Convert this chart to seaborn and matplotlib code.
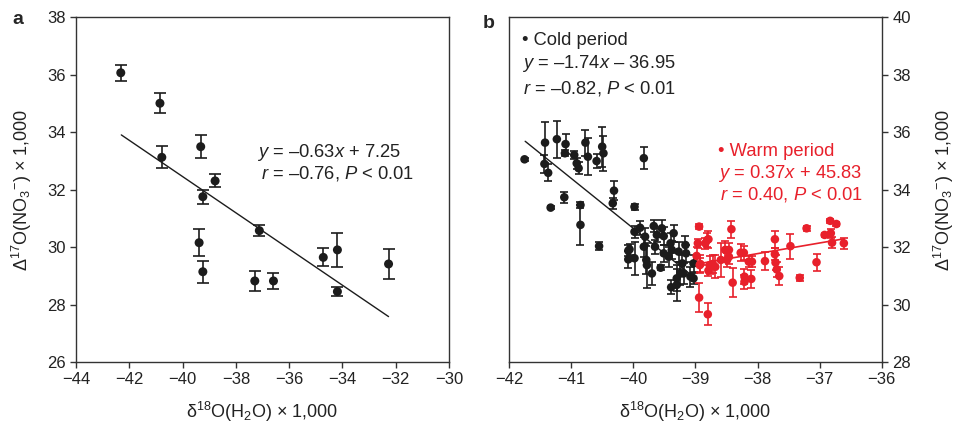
import numpy as np
import pandas as pd
import matplotlib
matplotlib.use("Agg")
import matplotlib.pyplot as plt
import seaborn as sns

sns.set_style("ticks")
plt.rcParams["font.family"] = ["Liberation Sans", "DejaVu Sans"]
plt.rcParams["mathtext.fontset"] = "custom"
plt.rcParams["mathtext.rm"] = "Liberation Sans"
plt.rcParams["mathtext.it"] = "Liberation Sans:italic"
plt.rcParams["mathtext.sf"] = "Liberation Sans"
plt.rcParams["mathtext.default"] = "regular"

# ---------------- Panel a data ----------------
a_x = [-42.32, -40.85, -40.78, -39.32, -38.78, -39.24, -39.38, -39.24,
       -37.12, -37.29, -36.59, -34.72, -34.19, -34.19, -32.27]
a_y = [36.06, 35.00, 33.12, 33.49, 32.30, 31.75, 30.15, 29.14,
       30.57, 28.82, 28.82, 29.64, 29.90, 28.45, 29.41]
a_err = [0.28, 0.34, 0.38, 0.39, 0.23, 0.24, 0.47, 0.38,
         0.20, 0.34, 0.28, 0.31, 0.58, 0.15, 0.52]
a_slope, a_icpt = -0.63, 7.25
a_fit_range = [-42.3, -32.27]

# ---------------- Panel b data ----------------
cold_x = [-41.75, -41.42, -41.43, -41.37, -41.23, -41.09, -41.10, -40.95,
          -40.91, -40.88, -40.77, -40.73, -40.59, -40.50, -40.48, -39.83,
          -41.11, -41.33, -40.85, -40.85, -40.55, -40.31, -40.33, -39.98,
          -40.06,
          -39.98, -39.89, -39.67, -39.54, -39.81, -39.62, -39.51, -39.35,
          -39.83, -39.65, -39.40, -40.08, -40.08, -39.98, -39.79, -39.78,
          -39.70, -39.56, -39.51, -39.43, -39.38, -39.27, -39.21, -39.24,
          -39.30, -39.19, -39.30, -39.39, -39.16, -39.15, -39.08, -39.03,
          -39.03]
cold_y = [35.05, 35.63, 34.89, 34.58, 35.75, 35.58, 35.26, 35.20,
          34.91, 34.74, 35.63, 35.14, 34.99, 35.49, 35.26, 35.09,
          33.73, 33.37, 33.46, 32.77, 32.03, 33.96, 33.52, 33.40,
          31.92,
          32.53, 32.67, 32.73, 32.65, 32.36, 32.42, 32.38, 32.48,
          32.01, 32.01, 32.13, 31.87, 31.57, 31.61, 31.55, 31.37,
          31.08, 31.28, 31.78, 31.66, 31.90, 31.84, 31.43, 31.08,
          30.91, 31.08, 30.68, 30.60, 32.07, 31.78, 30.97, 30.91,
          31.43]
cold_err = [0.05, 0.71, 0.30, 0.30, 0.64, 0.35, 0.10, 0.15,
            0.20, 0.20, 0.45, 0.65, 0.25, 0.70, 0.60, 0.39,
            0.20, 0.05, 0.10, 0.70, 0.15, 0.32, 0.20, 0.10,
            0.20,
            0.20, 0.25, 0.20, 0.30, 0.30, 0.25, 0.30, 0.30,
            0.35, 0.25, 0.35, 0.20, 0.30, 0.58, 0.50, 0.78,
            0.40, 0.08, 0.30, 0.35, 0.30, 0.35, 0.30, 0.40,
            0.45, 0.35, 0.55, 0.25, 0.30, 0.30, 0.35, 0.20,
            0.30]
cold_slope, cold_icpt = -1.74, -36.95
cold_fit_range = [-41.74, -38.98]

warm_x = [-38.94, -38.42, -38.79, -38.84, -38.96, -38.98, -38.92, -38.94,
          -38.80, -38.79, -38.72, -38.68, -38.59, -38.52, -38.46, -38.46,
          -38.49, -38.40, -38.27, -38.22, -38.14, -38.09, -38.21, -38.10,
          -38.21, -37.88, -37.72, -37.72, -37.71, -37.69, -37.65, -37.47,
          -37.32, -37.21, -37.05, -36.92, -36.82, -36.83, -36.73, -36.80,
          -36.61, -38.81, -38.93, -38.77]
warm_y = [32.71, 32.62, 32.27, 32.13, 32.13, 31.69, 31.41, 30.24,
          29.66, 31.18, 31.41, 31.31, 31.55, 31.90, 31.90, 31.66,
          31.55, 30.76, 31.80, 31.80, 31.49, 31.49, 30.79, 30.89,
          30.97, 31.51, 32.27, 31.75, 31.46, 31.22, 30.99, 32.03,
          30.93, 32.65, 31.47, 32.42, 32.48, 32.91, 32.80, 32.15,
          32.13, 32.24, 31.37, 31.37]
warm_err = [0.10, 0.29, 0.30, 0.20, 0.15, 0.30, 0.30, 0.50,
            0.38, 0.20, 0.30, 0.40, 0.60, 0.30, 0.25, 0.25,
            0.25, 0.50, 0.30, 0.25, 0.20, 0.20, 0.25, 0.30,
            0.25, 0.30, 0.30, 0.20, 0.25, 0.25, 0.30, 0.43,
            0.10, 0.08, 0.30, 0.08, 0.15, 0.08, 0.08, 0.20,
            0.20, 0.25, 0.25, 0.30]
warm_slope, warm_icpt = 0.37, 45.83
warm_fit_range = [-38.98, -36.61]

BLACK = "#1c1c1c"
RED = "#e8202b"
AX = "#333333"

fig = plt.figure(figsize=(9.55, 4.25), dpi=100)
axA = fig.add_axes([0.0796, 0.1482, 0.3906, 0.8118])
axB = fig.add_axes([0.533, 0.1482, 0.3903, 0.8118])

dfa = pd.DataFrame({"x": a_x, "y": a_y, "e": a_err})
axA.errorbar(dfa.x, dfa.y, yerr=dfa.e, fmt="none", ecolor=BLACK,
             elinewidth=1.2, capsize=4.5, capthick=1.2, zorder=2)
sns.scatterplot(data=dfa, x="x", y="y", ax=axA, color=BLACK, s=42,
                edgecolor="none", zorder=3, legend=False)
fx = np.array(a_fit_range)
axA.plot(fx, a_slope * fx + a_icpt, color=BLACK, lw=1.0, zorder=1)

dfc = pd.DataFrame({"x": cold_x, "y": cold_y, "e": cold_err})
dfw = pd.DataFrame({"x": warm_x, "y": warm_y, "e": warm_err})
axB.errorbar(dfc.x, dfc.y, yerr=dfc.e, fmt="none", ecolor=BLACK,
             elinewidth=1.2, capsize=3.2, capthick=1.2, zorder=2)
axB.errorbar(dfw.x, dfw.y, yerr=dfw.e, fmt="none", ecolor=RED,
             elinewidth=1.2, capsize=3.2, capthick=1.2, zorder=2)
sns.scatterplot(data=dfc, x="x", y="y", ax=axB, color=BLACK, s=38,
                edgecolor="none", zorder=3, legend=False)
sns.scatterplot(data=dfw, x="x", y="y", ax=axB, color=RED, s=38,
                edgecolor="none", zorder=3, legend=False)
cx = np.array(cold_fit_range)
axB.plot(cx, cold_slope * cx + cold_icpt, color=BLACK, lw=1.0, zorder=4)
wx = np.array(warm_fit_range)
axB.plot(wx, warm_slope * wx + warm_icpt, color=RED, lw=1.2, zorder=4)

ylab = "Δ$^{17}$O(NO$_3$$^{-}$) × 1,000"
xlab = "δ$^{18}$O(H$_2$O) × 1,000"

for ax in (axA, axB):
    for s in ax.spines.values():
        s.set_visible(True)
        s.set_color(AX)
        s.set_linewidth(1.0)
    ax.tick_params(colors=AX, labelcolor="#222222", labelsize=12,
                   length=4, width=1.0, direction="out")
    ax.set_xlabel(xlab, fontsize=13, color="#222222", labelpad=9)

axA.set_xlim(-44, -30)
axA.set_ylim(26, 38)
axA.set_xticks(np.arange(-44, -29, 2))
axA.set_yticks(np.arange(26, 39, 2))
axA.set_ylabel(ylab, fontsize=13, color="#222222", labelpad=9)

axB.set_xlim(-42, -36)
axB.set_ylim(28, 40)
axB.set_xticks(np.arange(-42, -35, 1))
axB.set_yticks(np.arange(28, 41, 2))
axB.yaxis.tick_right()
axB.yaxis.set_label_position("right")
axB.set_ylabel(ylab, fontsize=13, color="#222222", labelpad=15)

fs = 13.2
axA.text(-37.2, 33.3, "$\\mathit{y}$ = –0.63$\\mathit{x}$ + 7.25",
         fontsize=fs, va="center", color="#222222")
axA.text(-37.05, 32.57, "$\\mathit{r}$ = –0.76, $\\mathit{P}$ < 0.01",
         fontsize=fs, va="center", color="#222222")

axB.text(-41.79, 39.2, "• Cold period", fontsize=fs, va="center", color="#222222")
axB.text(-41.79, 38.4, "$\\mathit{y}$ = –1.74$\\mathit{x}$ – 36.95",
         fontsize=fs, va="center", color="#222222")
axB.text(-41.77, 37.53, "$\\mathit{r}$ = –0.82, $\\mathit{P}$ < 0.01",
         fontsize=fs, va="center", color="#222222")

axB.text(-38.63, 35.31, "• Warm period", fontsize=fs, va="center", color=RED)
axB.text(-38.63, 34.56, "$\\mathit{y}$ = 0.37$\\mathit{x}$ + 45.83",
         fontsize=fs, va="center", color=RED)
axB.text(-38.61, 33.81, "$\\mathit{r}$ = 0.40, $\\mathit{P}$ < 0.01",
         fontsize=fs, va="center", color=RED)

fig.text(18 / 955, 1 - 19 / 425, "a", fontsize=14, fontweight="bold",
         ha="center", va="center")
fig.text(489 / 955, 1 - 24 / 425, "b", fontsize=14, fontweight="bold",
         ha="center", va="center")

fig.savefig("out.png", dpi=100)
